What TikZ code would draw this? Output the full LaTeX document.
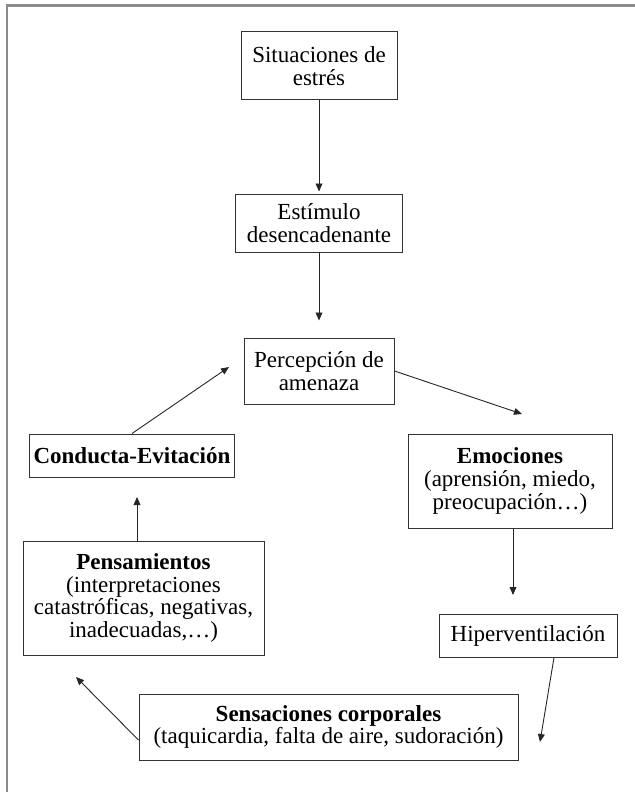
\documentclass[tikz,border=0pt]{standalone}
\usepackage{fontspec}
\setmainfont{Liberation Serif}
\usetikzlibrary{arrows.meta, positioning}

\begin{document}
\begin{tikzpicture}[
    x=0.5pt, y=-0.5pt,
    node distance=40pt,
    every node/.style={font=\fontsize{11.5}{11.3}\selectfont},
    box/.style   ={rectangle, draw=black!80, line width=0.5pt, align=center, inner sep=2pt},
    arrow/.style ={-{Triangle[length=4pt, width=3.4pt]}, line width=0.45pt, draw=black!85}
]
\useasboundingbox (0,0) rectangle (635,792);
\draw[black!45, line width=1.3pt] (640,5.5) -- (7,5.5) -- (7,800);
\node[box, minimum width=78pt, minimum height=34pt] (sit) at (319,66) {Situaciones de\\estrés};
\node[box, minimum width=83.5pt, minimum height=29pt, below=46.5pt of sit] (estim) {Estímulo\\desencadenante};
\node[box, minimum width=75pt, minimum height=33pt, below=42.5pt of estim] (perc) {Percepción de\\amenaza};
\node[box, minimum width=102pt, minimum height=47pt] (emoc) at (510,481) {\textbf{Emociones}\\(aprensión, miedo,\\preocupación\dots)};
\node[box, minimum width=89pt, minimum height=21.5pt] (hiper) at (528,635.5) {Hiperventilación};
\node[box, minimum width=189.5pt, minimum height=33pt] (sens) at (328.5,727) {\textbf{Sensaciones corporales}\\(taquicardia, falta de aire, sudoración)};
\node[box, minimum width=120.5pt, minimum height=57pt] (pens) at (143.5,598) {\textbf{Pensamientos}\\(interpretaciones\\catastróficas, negativas,\\inadecuadas,\dots)};
\node[box, minimum width=102pt, minimum height=21.5pt] (cond) at (132,455.5) {\textbf{Conducta-Evitación}};
% free arrow ends
\coordinate (toEmoc) at (522,414);
\coordinate (toHiper) at (513,595);
\coordinate (toSens) at (540,742);
\coordinate (toPens) at (76,677);
\coordinate (toCond) at (137,497);
\coordinate (toPerc) at (229,367);
\draw[arrow, shorten >=1pt] (sit) -- (estim);
\draw[arrow, shorten >=8.5pt] (estim) -- (perc);
\draw[arrow] (perc.east) -- (toEmoc);
\draw[arrow] (emoc.south -| toHiper) -- (toHiper);
\draw[arrow] ([xshift=13pt]hiper.south) -- (toSens);
\draw[arrow] ([yshift=-6.5pt]sens.west) -- (toPens);
\draw[arrow] (pens.north -| toCond) -- (toCond);
\draw[arrow] (cond.north) -- (toPerc);
\end{tikzpicture}
\end{document}
